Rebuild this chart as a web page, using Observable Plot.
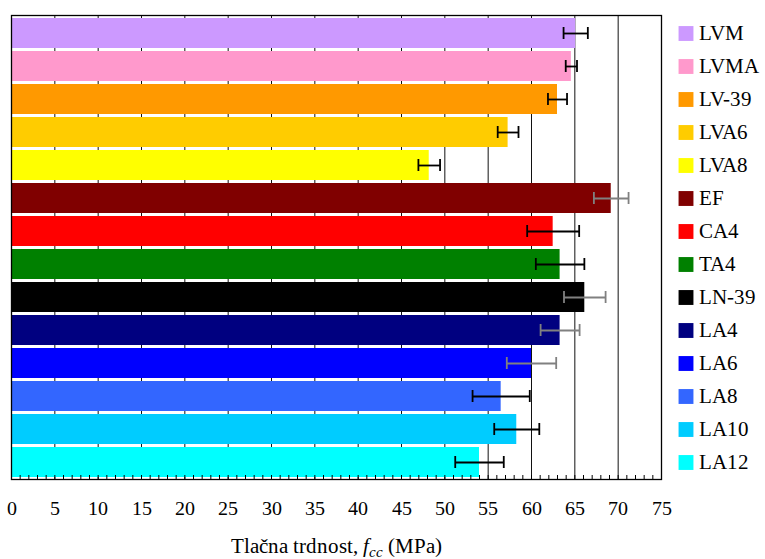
<!DOCTYPE html>
<html>
<head>
<meta charset="utf-8">
<script src="https://cdn.jsdelivr.net/npm/d3@7"></script>
<script src="https://cdn.jsdelivr.net/npm/@observablehq/plot@0.6"></script>
<style>
  @font-face {
    font-family: "ChartSerif";
    src: local("Liberation Serif"), local("LiberationSerif"), local("LiberationSerif-Regular"), local("Times New Roman"), local("Tinos"), local("DejaVu Serif");
    font-style: normal;
  }
  @font-face {
    font-family: "ChartSerif";
    src: local("Liberation Serif Italic"), local("LiberationSerif-Italic"), local("Times New Roman Italic"), local("DejaVu Serif Italic");
    font-style: italic;
  }
  html, body { margin: 0; padding: 0; background: #fff; }
  body { font-family: ChartSerif, 'Liberation Serif', serif; }
  #wrap { position: relative; width: 765px; height: 559px; }
  #xtitle { position: absolute; left: 11px; width: 650px; top: 536px; text-align: center;
            font-family: ChartSerif, 'Liberation Serif', serif; font-size: 21px; line-height: 21px; color: #000; }
  #xtitle .sub { font-size: 15px; vertical-align: -4px; font-style: italic; }
  #chart svg { display: block; }
  #chart svg text, #chart svg tspan { font-family: ChartSerif, 'Liberation Serif', serif !important; }
</style>
</head>
<body>
<div id="wrap">
  <div id="xtitle">Tlačna trdnost, <i>f</i><span class="sub">cc</span> (MPa)</div>
  <div id="chart"></div>
</div>
<script>
const categories = ["LVM","LVMA","LV-39","LVA6","LVA8","EF","CA4","TA4","LN-39","LA4","LA6","LA8","LA10","LA12"];
const strength = [65.1, 64.6, 63.0, 57.3, 48.2, 69.2, 62.5, 63.3, 66.15, 63.3, 60.0, 56.5, 58.3, 54.0];
const errors = [1.4, 0.65, 1.1, 1.2, 1.25, 2.0, 3.0, 2.8, 2.4, 2.25, 2.85, 3.3, 2.6, 2.8];
const barColors = ["#CC99FF","#FF99CC","#FF9900","#FFCC00","#FFFF00","#800000","#FF0000","#008000","#000000","#000080","#0000FF","#3366FF","#00CCFF","#00FFFF"];
const errorTone = ["black","black","black","black","black","gray","black","black","gray","gray","gray","black","black","black"];
const majorTicks = [0,5,10,15,20,25,30,35,40,45,50,55,60,65,70,75];
const minorTicks = d3.range(0, 76, 1);

const rows = categories.map((c, i) => ({
  cat: c, v: strength[i], e: errors[i], lo: strength[i] - errors[i], hi: strength[i] + errors[i], tone: errorTone[i]
}));
const blackErr = rows.filter(d => d.tone === "black");
const grayErr = rows.filter(d => d.tone === "gray");

const font = "ChartSerif, 'Liberation Serif', serif";

function errMarks(data, color) {
  return [
    Plot.link(data, {x1: "lo", x2: "hi", y1: "cat", y2: "cat", stroke: color, strokeWidth: 1.8}),
    Plot.tickX(data, {x: "lo", y: "cat", stroke: color, strokeWidth: 1.8, insetTop: 9, insetBottom: 9}),
    Plot.tickX(data, {x: "hi", y: "cat", stroke: color, strokeWidth: 1.8, insetTop: 9, insetBottom: 9})
  ];
}

const chart = Plot.plot({
  width: 765,
  height: 530,
  marginTop: 15,
  marginBottom: 51,
  marginLeft: 11,
  marginRight: 104,
  style: {fontFamily: font, background: "transparent"},
  x: {domain: [0, 75]},
  y: {domain: categories, paddingInner: 0.1, paddingOuter: 0, axis: null},
  color: {domain: categories, range: barColors},
  marks: [
    Plot.ruleX(majorTicks, {stroke: "#111", strokeWidth: 1}),
    Plot.barX(rows, {x: "v", y: "cat", fill: "cat"}),
    ...errMarks(blackErr, "black"),
    ...errMarks(grayErr, "#808080"),
    Plot.tickX(minorTicks, {x: d => d, stroke: "black", strokeWidth: 1, insetTop: 460}),
    Plot.axisX(majorTicks, {tickSize: 0, tickPadding: 21, fontSize: 20, fontFamily: font, fill: "black", label: null}),
    Plot.frame({stroke: "black", strokeWidth: 1.3}),
    Plot.dot(categories, {y: d => d, frameAnchor: "right", dx: 24.5, symbol: "square", r: 8.4, fill: d => d, stroke: null}),
    Plot.text(categories, {y: d => d, text: d => d, frameAnchor: "right", dx: 37.5, textAnchor: "start", fontSize: 21, fontFamily: font, fill: "black"})
  ]
});

document.getElementById("chart").appendChild(chart);
</script>
</body>
</html>
